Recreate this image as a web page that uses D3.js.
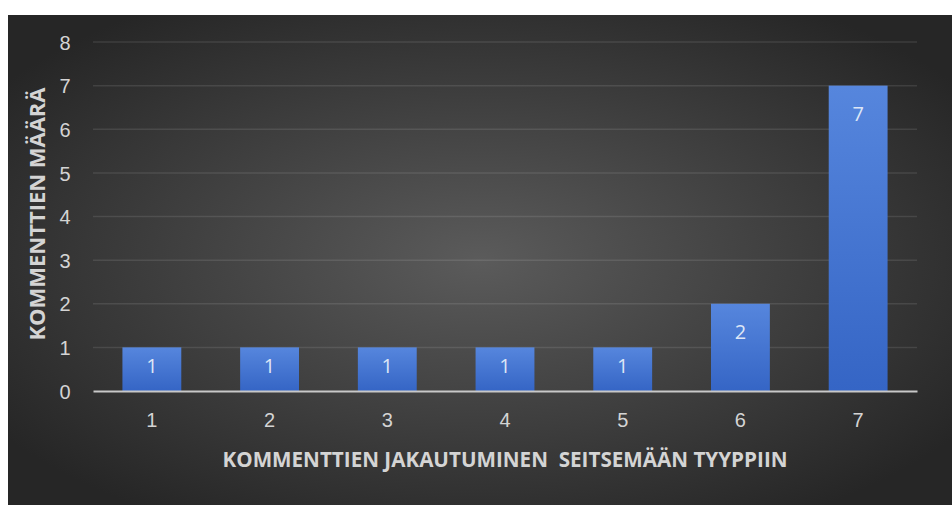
<!DOCTYPE html>
<html>
<head>
<meta charset="utf-8">
<script src="https://cdn.jsdelivr.net/npm/d3@7"></script>
<style>
  body { margin: 0; background: #fff; }
  svg { display: block; font-family: "Open Sans", "Noto Sans", sans-serif; }
</style>
</head>
<body>
<svg width="952" height="505"></svg>
<script>
// data
const categories = ["1", "2", "3", "4", "5", "6", "7"];
const counts = [1, 1, 1, 1, 1, 2, 7];
const yTicks = [0, 1, 2, 3, 4, 5, 6, 7, 8];
const xTitle = "KOMMENTTIEN JAKAUTUMINEN  SEITSEMÄÄN TYYPPIIN";
const yTitle = "KOMMENTTIEN MÄÄRÄ";

let svg = d3.select("svg");
let width = +svg.attr("width");
let height = +svg.attr("height");

let defs = svg.append("defs");
let bg = defs.append("radialGradient").attr("id", "bg")
    .attr("cx", "50%").attr("cy", "50%").attr("r", "62%");
bg.append("stop").attr("offset", "0%").attr("stop-color", "#5b5b5b");
bg.append("stop").attr("offset", "100%").attr("stop-color", "#262626");

let barGrad = defs.append("linearGradient").attr("id", "bar")
    .attr("x1", 0).attr("y1", 0).attr("x2", 0).attr("y2", 1);
barGrad.append("stop").attr("offset", "0%").attr("stop-color", "#5686dd");
barGrad.append("stop").attr("offset", "100%").attr("stop-color", "#3565c5");

// chart area
svg.append("rect")
    .attr("x", 8).attr("y", 15)
    .attr("width", width - 8).attr("height", height - 15)
    .attr("fill", "url(#bg)");

let margin = {left: 93, right: 35, top: 42, bottom: 114};

var x = d3.scaleBand()
    .domain(categories)
    .range([margin.left, width - margin.right])
    .paddingInner(0.5)
    .paddingOuter(0.25);

var y = d3.scaleLinear()
    .domain([0, 8])
    .range([height - margin.bottom, margin.top]);

// gridlines
svg.append("g")
    .attr("class", "grid")
    .selectAll("line")
    .data(yTicks.filter(function(d) { return d > 0; }))
    .enter().append("line")
    .attr("x1", margin.left)
    .attr("x2", width - margin.right)
    .attr("y1", function(d) { return y(d); })
    .attr("y2", function(d) { return y(d); })
    .attr("stroke", "#ffffff")
    .attr("stroke-opacity", 0.1)
    .attr("stroke-width", 1.5);

// y axis labels
let yAxis = svg.append("g")
    .attr("transform", "translate(65,0)")
    .call(d3.axisLeft(y).tickValues(yTicks).tickSize(0).tickPadding(0));
yAxis.select(".domain").remove();
yAxis.selectAll("text")
    .attr("fill", "#d4d4d4")
    .attr("font-size", 20)
    .attr("text-anchor", "middle")
    .attr("dy", "0.36em");

// bars
svg.append("g")
    .selectAll("rect")
    .data(counts)
    .enter().append("rect")
    .attr("x", function(d, i) { return x(categories[i]); })
    .attr("y", function(d) { return y(d); })
    .attr("width", x.bandwidth())
    .attr("height", function(d) { return y(0) - y(d); })
    .attr("fill", "url(#bar)");

// value labels (inside end, but not below the bar middle)
svg.append("g")
    .selectAll("text")
    .data(counts)
    .enter().append("text")
    .attr("x", function(d, i) { return x(categories[i]) + x.bandwidth() / 2; })
    .attr("y", function(d) { return Math.min(y(d) + 28, (y(d) + y(0)) / 2 - 3); })
    .attr("dy", "0.36em")
    .attr("text-anchor", "middle")
    .attr("fill", "#dde6f6")
    .attr("font-size", 20)
    .text(function(d) { return d; });

// x axis
let xAxis = svg.append("g")
    .attr("transform", "translate(0," + y(0) + ")")
    .call(d3.axisBottom(x).tickSize(0).tickPadding(0));
xAxis.select(".domain")
    .attr("stroke", "#c8c8c8")
    .attr("stroke-width", 2);
xAxis.selectAll("text")
    .attr("fill", "#d4d4d4")
    .attr("font-size", 20)
    .attr("dy", null)
    .attr("y", 31)
    .attr("dominant-baseline", "middle");

// axis titles
svg.append("text")
    .attr("x", 505)
    .attr("y", 467)
    .attr("text-anchor", "middle")
    .attr("fill", "#d4d4d4")
    .attr("font-size", 21)
    .attr("font-weight", "bold")
    .attr("textLength", 565)
    .attr("lengthAdjust", "spacingAndGlyphs")
    .style("white-space", "pre")
    .text(xTitle);

svg.append("text")
    .attr("transform", "translate(45,214) rotate(-90)")
    .attr("text-anchor", "middle")
    .attr("fill", "#d4d4d4")
    .attr("font-size", 21)
    .attr("font-weight", "bold")
    .attr("textLength", 253)
    .attr("lengthAdjust", "spacingAndGlyphs")
    .text(yTitle);
</script>
</body>
</html>
